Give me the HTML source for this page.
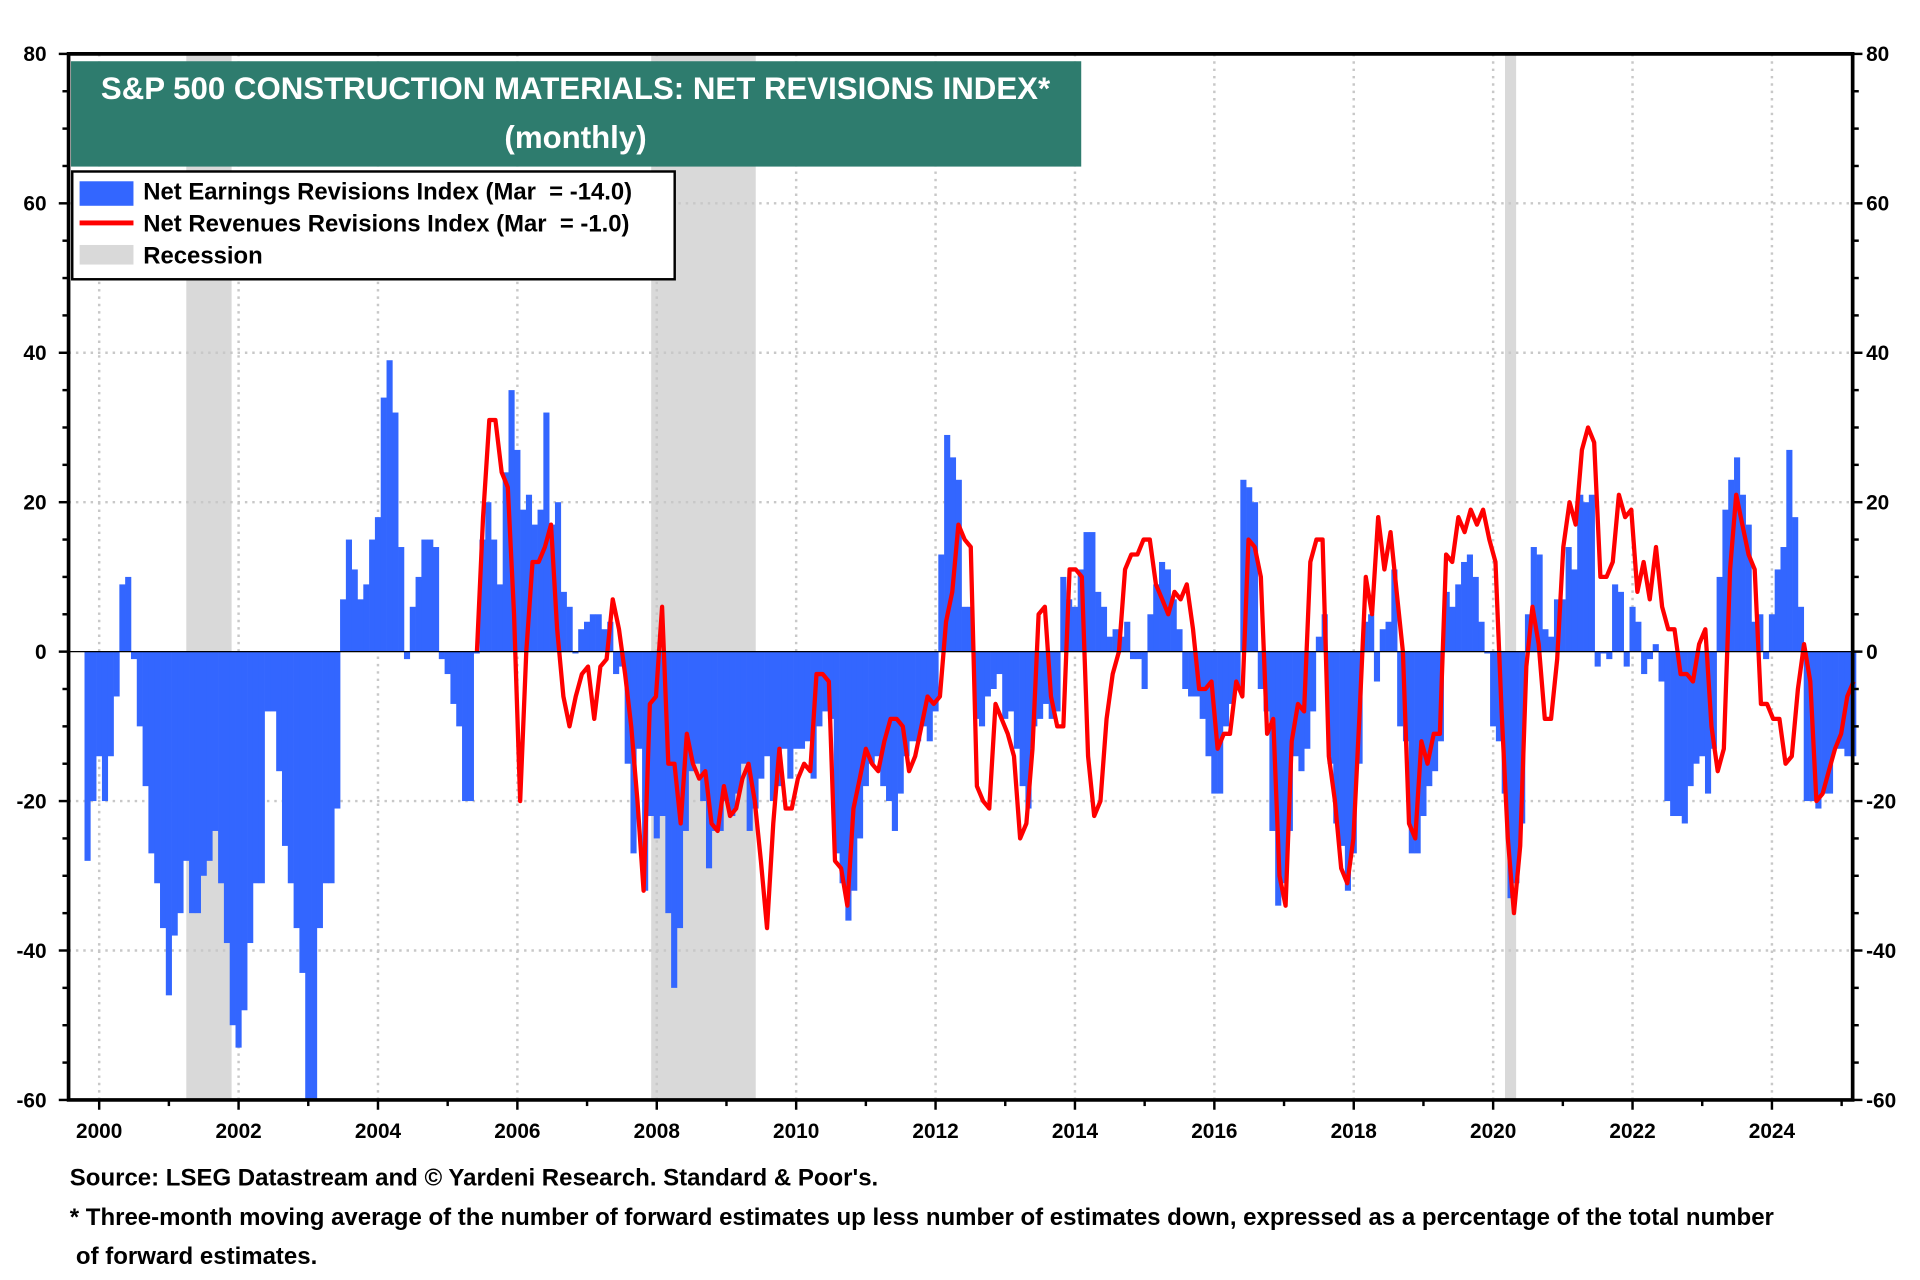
<!DOCTYPE html>
<html><head><meta charset="utf-8">
<style>
html,body{margin:0;padding:0;background:#fff;}
svg{display:block;font-family:"Liberation Sans",Arial,sans-serif;}
</style></head>
<body>
<svg id="chart" width="1920" height="1280" viewBox="0 0 1568 1045" preserveAspectRatio="none" xmlns="http://www.w3.org/2000/svg">
<rect x="0" y="0" width="1568" height="1045" fill="#fff"/>
<g id="rec"></g>
<g id="grid"></g>
<g id="bars"></g>
<g id="line"></g>
<g id="axes"></g>
<g>
<rect x="58" y="50" width="825" height="86" fill="#2e7c6e"/>
<text x="470" y="81" text-anchor="middle" font-size="25.5" font-weight="bold" fill="#fff">S&amp;P 500 CONSTRUCTION MATERIALS: NET REVISIONS INDEX*</text>
<text x="470" y="121" text-anchor="middle" font-size="25.5" font-weight="bold" fill="#fff">(monthly)</text>
</g>
<g>
<rect x="59" y="140" width="492" height="88" fill="#fff" stroke="#000" stroke-width="2"/>
<g>
<rect x="65" y="148" width="44" height="20" fill="#3366ff"/>
<text x="117" y="163" font-size="19.5" font-weight="bold" xml:space="preserve">Net Earnings Revisions Index (Mar  = -14.0)</text></g>
<g>
<rect x="65" y="180" width="44" height="4" fill="#ff0000"/>
<text x="117" y="189" font-size="19.5" font-weight="bold" xml:space="preserve">Net Revenues Revisions Index (Mar  = -1.0)</text></g>
<g>
<rect x="65" y="200" width="44" height="16" fill="#d9d9d9"/>
<text x="117" y="215" font-size="19.5" font-weight="bold">Recession</text></g>
</g>
<text x="57" y="968" font-size="19.6" font-weight="bold">Source: LSEG Datastream and © Yardeni Research. Standard &amp; Poor's.</text>
<text x="57" y="1000" font-size="19.6" font-weight="bold">* Three-month moving average of the number of forward estimates up less number of estimates down, expressed as a percentage of the total number</text>
<text x="62" y="1032" font-size="19.6" font-weight="bold">of forward estimates.</text>
</svg>
<script>
const yTicks=[-60,-40,-20,0,20,40,60,80];
const xTickYears=[2000,2002,2004,2006,2008,2010,2012,2014,2016,2018,2020,2022,2024];
const recessions=[[2001.25,2001.9],[2007.92,2009.42],[2020.17,2020.33]];
const earnStart=1999+10/12;
const earnings=[-28,-20,
-14,-20,-14,-6,9,10,-1,-10,-18,-27,-31,-37,
-46,-38,-35,-28,-35,-35,-30,-28,-24,-31,-39,-50,
-53,-48,-39,-31,-31,-8,-8,-16,-26,-31,-37,-43,
-60,-60,-37,-31,-31,-21,7,15,11,7,9,15,
18,34,39,32,14,-1,6,10,15,15,14,-1,
-3,-7,-10,-20,-20,0,15,20,15,9,24,35,
27,19,21,17,19,32,17,20,8,6,0,3,
4,5,5,3,4,-3,-2,-15,-27,-13,-32,-22,
-25,-22,-35,-45,-37,-24,-16,-15,-20,-29,-24,-24,
-20,-22,-19,-15,-24,-21,-17,-14,-20,-18,-13,-17,
-13,-13,-12,-17,-10,-8,-9,-27,-31,-36,-32,-25,
-18,-15,-14,-18,-20,-24,-19,-14,-12,-12,-10,-12,
-8,13,29,26,23,6,6,-9,-10,-6,-5,-3,
-9,-8,-13,-18,-21,-10,-9,-7,-9,-8,10,7,
6,11,16,16,8,6,2,3,2,4,-1,-1,
-5,5,9,12,11,7,3,-5,-6,-6,-9,-14,
-19,-19,-10,-7,-5,23,22,20,-5,-8,-24,-34,
-31,-24,-14,-16,-13,-8,2,5,-15,-23,-26,-32,
-27,-15,4,5,-4,3,4,11,-10,-12,-27,-27,
-22,-18,-16,-12,8,6,9,12,13,10,4,0,
-10,-12,-19,-33,-31,-23,5,14,13,3,2,7,
7,14,11,21,20,21,-2,0,-1,9,8,-2,
6,4,-3,-1,1,-4,-20,-22,-22,-23,-18,-15,
-14,-19,-13,10,19,23,26,21,17,4,5,-1,
5,11,14,27,18,6,-20,-20,-21,-19,-19,-13,
-13,-14,-14];
const revStart=2005.42, revEnd=2025.17;
const revenues=[0,18,31,31,24,22,5,-20,0,12,12,14,17,3,-6,-10,-6,-3,-2,-9,-2,-1,7,3,-3,-10,-20,-32,-7,-6,6,-15,-15,-23,-11,-15,-17,-16,-23,-24,-18,-22,-21,-17,-15,-20,-28,-37,-23,-13,-21,-21,-17,-15,-16,-3,-3,-4,-28,-29,-34,-21,-17,-13,-15,-16,-12,-9,-9,-10,-16,-14,-10,-6,-7,-6,4,8,17,15,14,-18,-20,-21,-7,-9,-11,-14,-25,-23,-13,5,6,-6,-10,-10,11,11,10,-14,-22,-20,-9,-3,0,11,13,13,15,15,9,7,5,8,7,9,3,-5,-5,-4,-13,-11,-11,-4,-6,15,14,10,-11,-9,-30,-34,-12,-7,-8,12,15,15,-14,-20,-29,-31,-25,-8,10,5,18,11,16,8,0,-23,-25,-12,-15,-11,-11,13,12,18,16,19,17,19,15,12,-8,-25,-35,-26,-2,6,1,-9,-9,-1,14,20,17,27,30,28,10,10,12,21,18,19,8,12,7,14,6,3,3,-3,-3,-4,1,3,-10,-16,-13,11,21,17,13,11,-7,-7,-9,-9,-15,-14,-5,1,-4,-20,-19,-16,-13,-11,-6,-4];

const L=56,R=1513,T=44,B=898;
const X=yr=>81+(yr-2000)*56.92;
const Y=v=>532-v*6.1;
const NS='http://www.w3.org/2000/svg';
function mk(tag,attrs,parent){const e=document.createElementNS(NS,tag);for(const k in attrs)e.setAttribute(k,attrs[k]);parent.appendChild(e);return e;}
const gRec=document.getElementById('rec'),gGrid=document.getElementById('grid'),gBars=document.getElementById('bars'),gLine=document.getElementById('line'),gAx=document.getElementById('axes');
recessions.forEach(r=>{const e=mk('rect',{x:X(r[0]),y:T,width:X(r[1])-X(r[0]),height:B-T,fill:'#d9d9d9'},gRec);

});
yTicks.forEach(v=>{if(v!==0&&v!==-60&&v!==80){const e=mk('line',{x1:L,x2:R,y1:Y(v),y2:Y(v),stroke:'#c8c8c8','stroke-width':2,'stroke-dasharray':'2,4'},gGrid);

}});
xTickYears.forEach(yr=>{const e=mk('line',{x1:X(yr),x2:X(yr),y1:T,y2:B,stroke:'#c8c8c8','stroke-width':2,'stroke-dasharray':'2,4'},gGrid);

});
earnings.forEach((v,i)=>{const x=X(earnStart+i/12);const y0=Y(0),y1=Y(v);
const e=mk('rect',{x:x-2.5,y:Math.min(y0,y1),width:5,height:Math.max(1.5,Math.abs(y1-y0)),fill:'#3366ff'},gBars);

});
const step=(revEnd-revStart)/(revenues.length-1);
const pts=revenues.map((v,i)=>X(revStart+i*step).toFixed(1)+','+Y(v).toFixed(1)).join(' ');
const pl=mk('polyline',{points:pts,fill:'none',stroke:'#ff0000','stroke-width':3.5,'stroke-linejoin':'round'},gLine);


const zl=mk('line',{x1:L,x2:R,y1:Y(0),y2:Y(0),stroke:'#000','stroke-width':1},gAx);


const fr=mk('path',{d:`M${L},${B} L${L},${T} L${R},${T} L${R},${B} Z`,fill:'none',stroke:'#000','stroke-width':3},gAx);


for(let v=-60;v<=80;v+=5){const len=v%20===0?8:5;
mk('line',{x1:L-len,x2:L,y1:Y(v),y2:Y(v),stroke:'#000','stroke-width':2},gAx);
mk('line',{x1:R,x2:R+len,y1:Y(v),y2:Y(v),stroke:'#000','stroke-width':2},gAx);}
yTicks.forEach(v=>{
const a=mk('text',{x:38,y:Y(v)+6,'text-anchor':'end','font-size':17,'font-weight':'bold'},gAx);a.textContent=v;


const b=mk('text',{x:1524,y:Y(v)+6,'font-size':17,'font-weight':'bold'},gAx);b.textContent=v;

});
for(let yr=2000;yr<=2025;yr++){mk('line',{x1:X(yr),x2:X(yr),y1:B,y2:B+(yr%2===0?8:5),stroke:'#000','stroke-width':2},gAx);}
xTickYears.forEach(yr=>{const t=mk('text',{x:X(yr),y:929,'text-anchor':'middle','font-size':17,'font-weight':'bold'},gAx);t.textContent=yr;

});
</script>
</body></html>
